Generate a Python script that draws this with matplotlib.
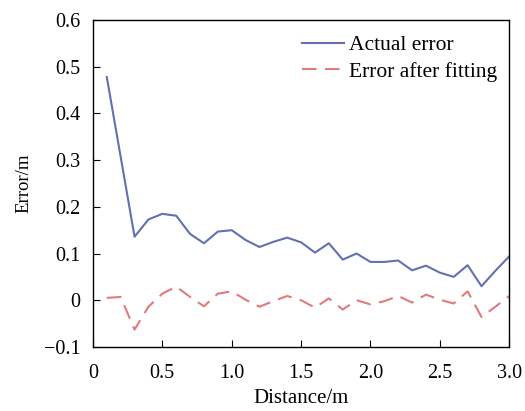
import numpy as np
import matplotlib
matplotlib.use('Agg')
import matplotlib.pyplot as plt

plt.rcParams['font.family'] = ['Liberation Serif', 'DejaVu Serif']

distance = np.round(np.arange(1, 31) * 0.1, 1)
actual_error = [0.478, 0.307, 0.136, 0.173, 0.185, 0.181, 0.142, 0.122, 0.147, 0.150,
                0.129, 0.114, 0.125, 0.134, 0.124, 0.102, 0.122, 0.087, 0.100, 0.082,
                0.082, 0.085, 0.064, 0.074, 0.059, 0.050, 0.075, 0.030, 0.063, 0.094]
fitted_error = [0.005, 0.007, -0.063, -0.014, 0.014, 0.029, 0.007, -0.013, 0.014, 0.019,
                0.001, -0.014, -0.002, 0.009, 0.000, -0.016, 0.004, -0.020, 0.000, -0.009,
                -0.002, 0.009, -0.005, 0.012, 0.001, -0.007, 0.019, -0.036, -0.014, 0.009]
xticks = [0, 0.5, 1.0, 1.5, 2.0, 2.5, 3.0]
xtick_labels = ['0', '0.5', '1.0', '1.5', '2.0', '2.5', '3.0']
yticks = [-0.1, 0, 0.1, 0.2, 0.3, 0.4, 0.5, 0.6]
ytick_labels = ['\u22120.1', '0', '0.1', '0.2', '0.3', '0.4', '0.5', '0.6']

fig = plt.figure(figsize=(5.25, 4.11), dpi=100)
ax = fig.add_axes([0.177, 0.156, 0.793, 0.795])

ax.plot(distance, actual_error, color='#6370b3', lw=1.5, label='Actual error')
ax.plot(distance, fitted_error, color='#e07b7b', lw=1.5, ls=(0, (7, 4)), label='Error after fitting')

ax.set_xlim(0, 3.0)
ax.set_ylim(-0.1, 0.6)
ax.set_xticks(xticks)
ax.set_xticklabels(xtick_labels)
ax.set_yticks(yticks)
ax.set_yticklabels(ytick_labels)
ax.tick_params(direction='in', labelsize=14.5, length=5, top=False, right=False)
ax.tick_params(axis='x', pad=12)
ax.tick_params(axis='y', pad=9)
for s in ax.spines.values():
    s.set_linewidth(1.0)

ax.set_xlabel('Distance/m', fontsize=15, labelpad=5)
ax.set_ylabel('Error/m', fontsize=13.5, labelpad=8)

ax.legend(loc='upper right', bbox_to_anchor=(1.0, 0.99), frameon=False, fontsize=15.5,
          handlelength=1.95, handletextpad=0.25, labelspacing=0.3, borderaxespad=0.15)

fig.savefig('out.png', dpi=100)
